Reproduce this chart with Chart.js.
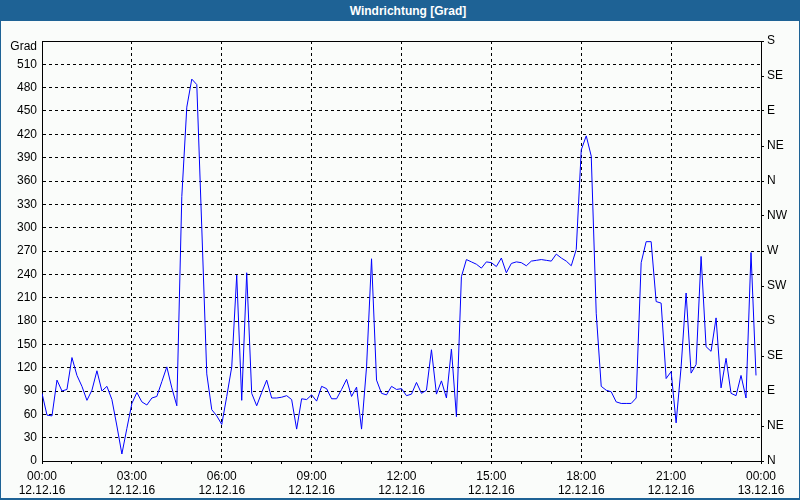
<!DOCTYPE html>
<html>
<head>
<meta charset="utf-8">
<script src="https://cdn.jsdelivr.net/npm/chart.js@4/dist/chart.umd.min.js"></script>
<style>
  body { margin: 0; background: #fff; }
  #frame {
    position: relative; width: 800px; height: 500px; box-sizing: border-box;
    background: #fafcfa; border: 1px solid #1e6295; border-bottom-width: 2px;
    font-family: 'Liberation Sans', Arial, sans-serif;
  }
  #title {
    position: absolute; left: 0; top: 0; width: 798px; height: 20px;
    background: #1e6295; color: #fff; font-weight: bold; font-size: 12px;
    line-height: 20px; text-align: center; padding-left: 16px; box-sizing: border-box;
  }
  #unit {
    position: absolute; left: 0; top: 38px; width: 36px; text-align: right;
    font-size: 12px; line-height: 14px; color: #000;
  }
  #wrap { position: absolute; left: 0; top: 19px; width: 798px; height: 477px; }
</style>
</head>
<body>
<div id="frame">
  <div id="title">Windrichtung [Grad]</div>
  <div id="wrap"><canvas id="chart"></canvas></div>
  <div id="unit">Grad</div>
</div>
<script>
// Windrichtung in Grad, ein Wert alle 10 Minuten ab 12.12.16 00:00
const sampleMinutes = 10;
const dirValues = [
  87, 59, 58, 104, 90, 92, 133, 110, 96, 78,
  91, 116, 90, 96, 79, 45, 9, 42, 74, 88,
  76, 72, 81, 83, 102, 121, 94, 71, 340, 455,
  491, 484, 300, 112, 66, 58, 47, 83, 121, 239,
  78, 242, 87, 71, 88, 104, 81, 81, 82, 84,
  79, 41, 80, 79, 85, 77, 96, 93, 80, 80,
  92, 105, 83, 95, 41, 121, 260, 104, 87, 85,
  96, 92, 93, 84, 86, 101, 87, 91, 143, 86,
  103, 81, 144, 57, 237, 259, 256, 253, 248, 256,
  255, 250, 261, 242, 254, 256, 255, 251, 257, 258,
  259, 258, 257, 266, 261, 257, 251, 272, 400, 418,
  392, 190, 96, 91, 89, 76, 74, 74, 74, 81,
  255, 282, 282, 205, 203, 106, 115, 49, 121, 216,
  113, 124, 263, 147, 141, 184, 94, 132, 87, 84,
  110, 81, 268, 110
];

// Beschriftungen der x-Achse (alle 3 Stunden)
const timeLabels = ['00:00', '03:00', '06:00', '09:00', '12:00', '15:00', '18:00', '21:00', '00:00'];
const dateLabels = ['12.12.16', '12.12.16', '12.12.16', '12.12.16', '12.12.16', '12.12.16', '12.12.16', '12.12.16', '13.12.16'];

// Himmelsrichtungen der rechten Achse (alle 45 Grad)
const compassLabels = ['N', 'NE', 'E', 'SE', 'S', 'SW', 'W', 'NW', 'N', 'NE', 'E', 'SE', 'S'];

const points = dirValues.map((v, i) => ({ x: i * sampleMinutes, y: v }));

Chart.defaults.font.family = "'Liberation Sans', Arial, sans-serif";
Chart.defaults.font.size = 12;
Chart.defaults.color = '#000';

// Rahmen oben durchgezogen zeichnen
const frameLine = {
  id: 'frameLine',
  afterDraw(chart) {
    const { ctx, chartArea } = chart;
    ctx.save();
    ctx.strokeStyle = '#000';
    ctx.lineWidth = 1;
    ctx.beginPath();
    ctx.moveTo(chartArea.left, Math.round(chartArea.top) + 0.5);
    ctx.lineTo(chartArea.right, Math.round(chartArea.top) + 0.5);
    ctx.stroke();
    ctx.restore();
  }
};

new Chart(document.getElementById('chart'), {
  type: 'line',
  data: {
    datasets: [{
      data: points,
      borderColor: '#0000ff',
      borderWidth: 1,
      pointRadius: 0,
      tension: 0,
      fill: false
    }]
  },
  options: {
    responsive: true,
    maintainAspectRatio: false,
    animation: false,
    layout: { padding: { top: 21 } },
    plugins: { legend: { display: false }, tooltip: { enabled: false } },
    scales: {
      x: {
        type: 'linear',
        min: 0,
        max: 1440,
        afterFit: (s) => { s.height = 36; },
        ticks: {
          stepSize: 60,
          autoSkip: false,
          maxRotation: 0,
          padding: 5,
          callback: (v) => v % 180 === 0 ? [timeLabels[v / 180], dateLabels[v / 180]] : ''
        },
        grid: {
          color: (c) => (c.tick && c.tick.value % 180 === 0) ? '#000' : 'rgba(0,0,0,0)',
          tickColor: '#000',
          tickLength: 3
        },
        border: { display: true, color: '#000', dash: [3, 3] }
      },
      y: {
        min: 0,
        max: 540,
        afterFit: (s) => { s.width = 41; },
        ticks: {
          stepSize: 30,
          padding: 5,
          callback: (v) => v === 540 ? '' : v
        },
        grid: { color: '#000', drawTicks: false },
        border: { display: true, color: '#000', dash: [3, 3] }
      },
      y2: {
        position: 'right',
        min: 0,
        max: 540,
        afterFit: (s) => { s.width = 38; },
        afterBuildTicks: (s) => { s.ticks = compassLabels.map((_, i) => ({ value: i * 45 })); },
        ticks: {
          padding: 3,
          callback: (v) => compassLabels[v / 45]
        },
        grid: { drawOnChartArea: false, color: '#000', tickLength: 3 },
        border: { display: true, color: '#000' }
      }
    }
  },
  plugins: [frameLine]
});
</script>
</body>
</html>
